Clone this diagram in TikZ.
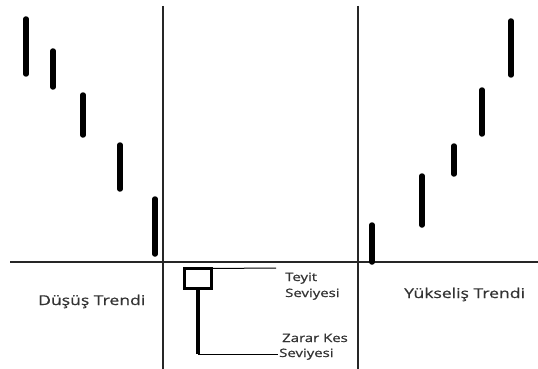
\documentclass[tikz,border=0pt]{standalone}
\usepackage{fontspec}
\newfontfamily\lblfont[FakeStretch=1.3,FakeBold=0.8]{Open Sans}
\begin{document}
\begin{tikzpicture}[x=1pt,y=-1pt,
  bar/.style={line width=5.5pt,line cap=round,black},
  axis/.style={line width=1.2pt,black!85},
  big/.style={font=\lblfont\fontsize{13.5}{15}\selectfont,text=black!80,inner sep=0pt,anchor=base west},
  small/.style={font=\lblfont\fontsize{11.5}{13}\selectfont,text=black!80,inner sep=0pt,anchor=base west},
  lead/.style={line width=1pt,black}]
\useasboundingbox[fill=white] (0,0) rectangle (538,369);
% axes
\coordinate (hl) at (10,262);
\coordinate (hr) at (538,262);
\coordinate (v1t) at (163,6);
\coordinate (v1b) at (163,369);
\coordinate (v2t) at (358,6);
\coordinate (v2b) at (358,369);
\draw[axis] (hl) -- (hr);
\draw[axis] (v1t) -- (v1b);
\draw[axis] (v2t) -- (v2b);
% falling trend bars
\draw[bar] (26,19) -- (26,74);
\draw[bar] (53,51) -- (53,87);
\draw[bar] (83,95) -- (83,135);
\draw[bar] (120,145) -- (120,189);
\draw[bar] (155,199) -- (155,254);
% rising trend bars
\draw[bar] (372,225) -- (372,262);
\draw[bar] (422,176) -- (422,225);
\draw[bar] (454,146) -- (454,174);
\draw[bar] (482,90) -- (482,134);
\draw[bar] (511,21) -- (511,75);
% labels
\node[big] (down) at (38,305) {Düşüş Trendi};
\node[big] (up) at (404,298) {Yükseliş Trendi};
% candle
\node[draw,line width=3pt,minimum width=27pt,minimum height=20pt,inner sep=0pt,outer sep=0pt] (box) at (198,278.5) {};
\coordinate (wickend) at (198,354);
\draw[line width=4pt] (box.south) -- (wickend);
\coordinate (topend) at (276,268);
\coordinate (botend) at (278,354);
\draw[lead] (box.north east) -- (topend);
\draw[lead] (wickend) -- (botend);
\node[small] (t1) at (285,281) {Teyit};
\node[small] (t2) at (285,297) {Seviyesi};
\node[small] (z1) at (282,342) {Zarar Kes};
\node[small] (z2) at (279,357) {Seviyesi};
\end{tikzpicture}
\end{document}
